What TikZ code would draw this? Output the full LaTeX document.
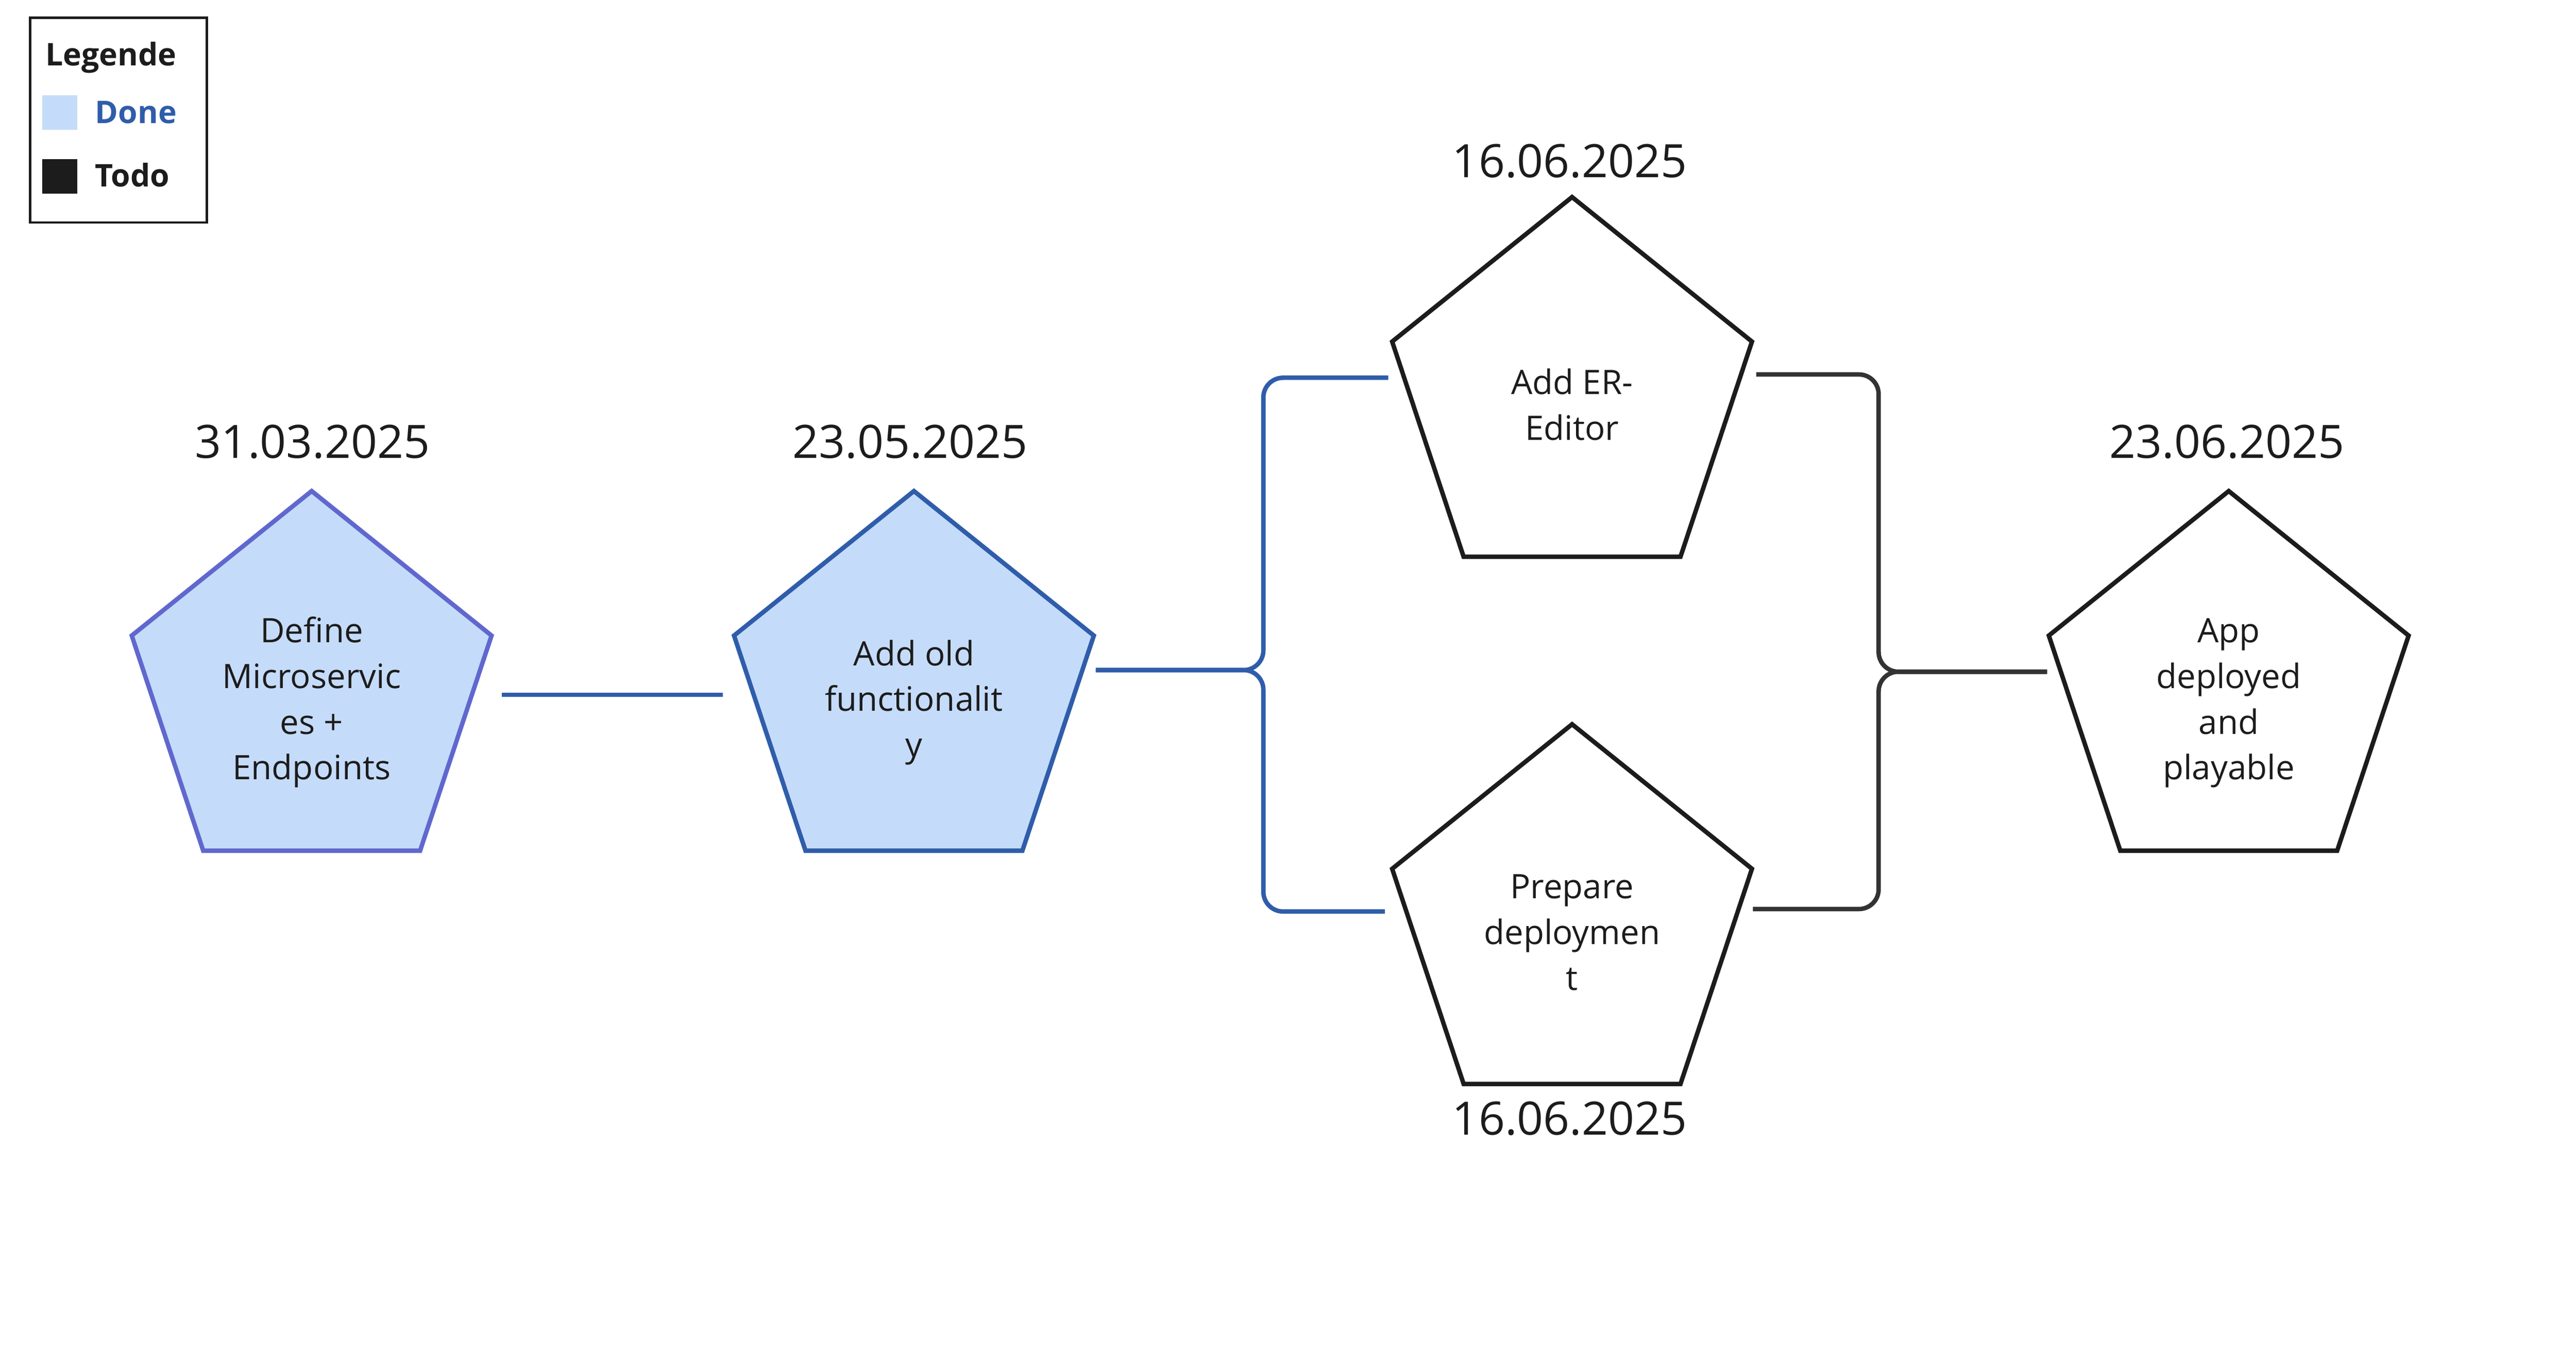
\documentclass[tikz,border=0pt]{standalone}
\usepackage{fontspec}
\setmainfont{Open Sans}
\usepackage{xcolor}
\usetikzlibrary{positioning}

\definecolor{donefill}{HTML}{C5DBFA}
\definecolor{doneblue}{HTML}{2F5DAA}
\definecolor{firstblue}{HTML}{6068CE}
\definecolor{todoblack}{HTML}{1C1C1C}
\definecolor{linegrey}{HTML}{333333}

\begin{document}
\begin{tikzpicture}[x=1pt, y=-1pt,
  first/.style={draw=firstblue, fill=donefill, line width=2.7pt},
  done/.style={draw=doneblue, fill=donefill, line width=2.7pt},
  todo/.style={draw=todoblack, fill=white, line width=2.7pt},
  mstext/.style={align=center, inner sep=0pt, text=todoblack, font=\fontsize{20.5}{27.8}\selectfont},
  datelabel/.style={anchor=base, inner sep=0pt, text=todoblack, font=\fontsize{28}{33}\selectfont},
  legendtext/.style={anchor=base west, inner sep=0pt, font=\fontsize{19}{23}\selectfont\bfseries},
  swatch/.style={anchor=north west, inner sep=0pt, minimum width=21.3pt, minimum height=21pt},
  donelink/.style={draw=doneblue, line width=2.7pt, rounded corners=12pt},
  todolink/.style={draw=linegrey, line width=2.7pt, rounded corners=12pt}]
\useasboundingbox (0,0) rectangle (1568,834);

\node[draw=todoblack, line width=1.5pt, outer sep=0pt, anchor=north west, minimum width=107.5pt, minimum height=124.7pt] (legend) at (18.4,10.8) {};
\node[legendtext, text=todoblack] (legtitle) at (27.5,40) {Legende};
\node[swatch, fill=donefill] (doneswatch) at (25.6,57.8) {};
\node[legendtext, text=doneblue] (donetext) at (57.8,75) {Done};
\node[swatch, fill=todoblack] (todoswatch) at (25.6,96.8) {};
\node[legendtext, text=todoblack] (todotext) at (57.8,113.8) {Todo};

\foreach \n/\x/\y/\s/\t in {m1/189.7/299/first/{Define\\Microservic\\es +\\Endpoints},
    m2/556.3/299/done/{Add old\\functionalit\\y},
    m3/956.9/120/todo/{Add ER-\\Editor},
    m4/956.9/441/todo/{Prepare\\deploymen\\t},
    m5/1356.6/299/todo/{App\\deployed\\and\\playable}}
{
  \draw[\s] (\x,\y) -- ++(109.5,88) -- ++(-43.5,131) -- ++(-132,0) -- ++(-43.5,-131) -- cycle;
  \node[mstext] (\n) at (\x,\y+129) {\rule{0pt}{16pt}\t\rule[-6pt]{0pt}{6pt}};
}

\foreach \n/\x/\y/\d in {d1/190.3/279/31.03.2025, d2/554/279/23.05.2025, d3/955.5/108/16.06.2025, d4/955.5/691/16.06.2025, d5/1355.5/279/23.06.2025}
  \node[datelabel] (\n) at (\x,\y) {\d};

\coordinate (m1-out) at (305.5,423);
\coordinate (m2-in) at (440,423);
\coordinate (m2-out) at (667,408);
\coordinate (fork) at (769,408);
\coordinate (m3-in) at (845,230);
\coordinate (m4-in) at (843,555);
\coordinate (m3-out) at (1069,228);
\coordinate (m4-out) at (1067,553.5);
\coordinate (join) at (1143.5,409);
\coordinate (m5-in) at (1246,409);

\draw[donelink] (m1-out) -- (m2-in);
\draw[donelink] (m2-out) -- (fork) |- (m3-in);
\draw[donelink] (m2-out) -- (fork) |- (m4-in);
\draw[todolink] (m3-out) -| (join) -- (m5-in);
\draw[todolink] (m4-out) -| (join) -- (m5-in);
\end{tikzpicture}
\end{document}
